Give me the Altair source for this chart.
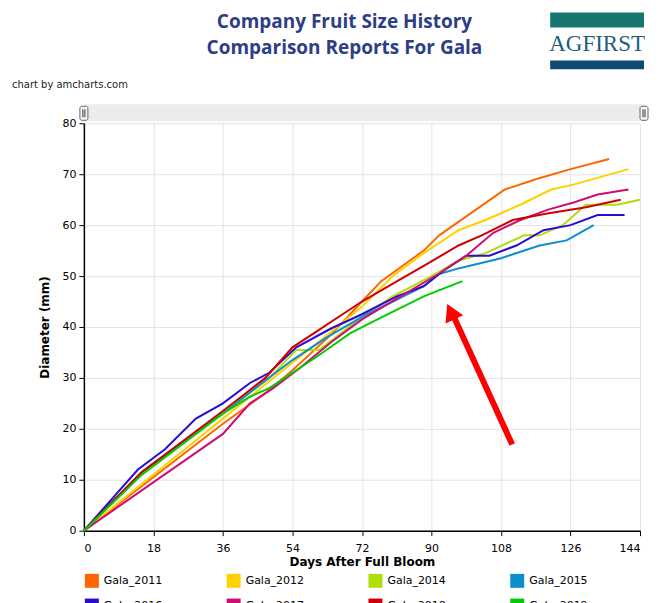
import altair as alt
import pandas as pd

# ---------------- data ----------------
SERIES = ["Gala_2011", "Gala_2012", "Gala_2014", "Gala_2015",
          "Gala_2016", "Gala_2017", "Gala_2018", "Gala_2019"]
COLORS = ["#FF6600", "#FCD202", "#B0DE09", "#0D8ECF",
          "#2A0CD0", "#CD0D74", "#CC0000", "#00CC00"]

days_2011 = [0, 36, 47, 54, 64, 72, 77, 88, 92, 109, 117, 126, 136]
mm_2011 = [0, 21, 27, 31.5, 38.5, 45, 49, 55, 58, 67, 69, 71, 73]

days_2012 = [0, 36, 54, 64, 72, 80, 88, 97, 104, 113, 121, 127, 141]
mm_2012 = [0, 22, 33, 39, 44, 50, 54.5, 59, 61, 64, 67, 68, 71]

days_2014 = [0, 15, 36, 48, 55, 61, 72, 80, 90, 97, 104, 114, 118, 124, 130, 138, 144]
mm_2014 = [0, 11, 23, 30, 35.5, 35.5, 42, 46, 50, 53, 54.5, 58, 58, 60, 64, 64, 65]

days_2015 = [0, 15, 36, 47, 54, 63, 72, 80, 88, 92, 97, 108, 118, 125, 132]
mm_2015 = [0, 11.5, 23, 29.5, 33.5, 38, 42, 45, 48, 50.4, 51.5, 53.5, 56, 57, 60]

days_2016 = [0, 14, 21, 29, 36, 43, 48, 55, 64, 72, 81, 88, 93, 99, 105, 112, 119, 126, 133, 140]
mm_2016 = [0, 12, 16, 22, 25, 29, 31, 36, 39.7, 42.5, 46, 48, 51, 54, 54, 56, 59, 60, 62, 62]

days_2017 = [0, 36, 43, 49, 56, 64, 72, 82, 92, 99, 106, 113, 120, 127, 133, 141]
mm_2017 = [0, 19, 25, 28, 32, 37, 41.5, 46, 50.5, 54, 58.5, 61, 63, 64.5, 66, 67]

days_2018 = [0, 15, 36, 47, 54, 60, 66, 72, 80, 88, 97, 103, 111, 120, 130, 139]
mm_2018 = [0, 11.5, 23.5, 30, 36, 39, 42, 45, 48.5, 52, 56, 58, 61, 62.3, 63.5, 65]

days_2019 = [0, 15, 36, 43, 48, 52, 60, 69, 76, 88, 98]
mm_2019 = [0, 11, 23, 26.3, 28, 30, 34, 38.8, 41.5, 46, 49]

ALL_DAYS = [days_2011, days_2012, days_2014, days_2015, days_2016, days_2017, days_2018, days_2019]
ALL_MM = [mm_2011, mm_2012, mm_2014, mm_2015, mm_2016, mm_2017, mm_2018, mm_2019]

X_TICKS = [0, 18, 36, 54, 72, 90, 108, 126, 144]
Y_TICKS = [0, 10, 20, 30, 40, 50, 60, 70, 80]

TITLE_LINES = ["Company Fruit Size History", "Comparison Reports For Gala"]
CREDIT = "chart by amcharts.com"
LOGO_TEXT = "AGFIRST"

# annotation arrow (tail -> head base), in data units
ARROW_DAYS = [110.9, 95.9]
ARROW_MM = [16.9, 41.8]
ARROW_HEAD = [95.0, 43.0]

rows = []
for name, ds, ms in zip(SERIES, ALL_DAYS, ALL_MM):
    for i, (d, m) in enumerate(zip(ds, ms)):
        rows.append({"series": name, "day": d, "mm": m, "order": i})
df = pd.DataFrame(rows)

W, H = 557, 408
FONT = "DejaVu Sans"

xscale = alt.Scale(domain=[0, 144], nice=False)
yscale = alt.Scale(domain=[0, 80], nice=False)

lines = alt.Chart(df).mark_line(strokeWidth=2).encode(
    x=alt.X("day:Q", scale=xscale,
            axis=alt.Axis(values=X_TICKS, title="Days After Full Bloom",
                          grid=True, gridColor="#e3e3e3", domainColor="#000",
                          tickColor="#000", tickSize=5, labelFont=FONT,
                          labelFontSize=11, labelColor="#000", labelPadding=7,
                          titleFont=FONT, titleFontSize=12, titleFontWeight="bold",
                          titleColor="#000", titlePadding=3)),
    y=alt.Y("mm:Q", scale=yscale,
            axis=alt.Axis(values=Y_TICKS, title="Diameter (mm)",
                          grid=True, gridColor="#e3e3e3", domainColor="#000",
                          tickColor="#000", tickSize=5, labelFont=FONT,
                          labelFontSize=11, labelColor="#000", labelPadding=3,
                          titleFont=FONT, titleFontSize=12, titleFontWeight="bold",
                          titleColor="#000", titlePadding=10)),
    color=alt.Color("series:N", scale=alt.Scale(domain=SERIES, range=COLORS),
                    legend=alt.Legend(title=None, orient="none", legendX=1,
                                      legendY=H + 43, columns=4, direction="horizontal",
                                      symbolType="square",
                                      symbolSize=49, symbolStrokeWidth=7,
                                      symbolOpacity=1, labelFont=FONT,
                                      labelFontSize=11, labelColor="#000",
                                      labelOffset=5, columnPadding=53,
                                      rowPadding=-15, padding=0)),
    order="order:Q",
)

arrow_df = pd.DataFrame({"d1": [ARROW_DAYS[0]], "m1": [ARROW_MM[0]],
                         "d2": [ARROW_DAYS[1]], "m2": [ARROW_MM[1]],
                         "hd": [ARROW_HEAD[0]], "hm": [ARROW_HEAD[1]]})
arrow_shaft = alt.Chart(arrow_df).mark_rule(color="#FF0000", strokeWidth=6).encode(
    x=alt.X("d1:Q", scale=xscale), y=alt.Y("m1:Q", scale=yscale),
    x2="d2:Q", y2="m2:Q")
arrow_head = alt.Chart(arrow_df).mark_point(
    shape="triangle-up", filled=True, color="#FF0000", opacity=1,
    size=380, angle=335).encode(
    x=alt.X("hd:Q", scale=xscale), y=alt.Y("hm:Q", scale=yscale))

one = pd.DataFrame({"k": [0]})
TITLE_COLOR = "#2E3E86"
title1 = alt.Chart(one).mark_text(text=TITLE_LINES[0], font="Open Sans",
                                  fontSize=19, fontWeight="bold", color=TITLE_COLOR,
                                  align="center", baseline="middle").encode(
    x=alt.value(261), y=alt.value(-101))
title2 = alt.Chart(one).mark_text(text=TITLE_LINES[1], font="Open Sans",
                                  fontSize=19, fontWeight="bold", color=TITLE_COLOR,
                                  align="center", baseline="middle").encode(
    x=alt.value(261), y=alt.value(-75))
credit = alt.Chart(one).mark_text(text=CREDIT, font=FONT, fontSize=10, color="#222",
                                  align="left", baseline="middle").encode(
    x=alt.value(-72), y=alt.value(-38))

# scrollbar decoration
scroll_bg = alt.Chart(one).mark_rect(color="#ececec").encode(
    x=alt.value(0), x2=alt.value(562), y=alt.value(-19), y2=alt.value(-2))
handles = []
for hx in [0, 561]:
    handles.append(alt.Chart(one).mark_rect(fill="#f6f6f6", stroke="#666",
                                            strokeWidth=1, cornerRadius=2).encode(
        x=alt.value(hx - 4), x2=alt.value(hx + 4), y=alt.value(-17), y2=alt.value(-3)))
    handles.append(alt.Chart(one).mark_rule(color="#333", strokeWidth=1).encode(
        x=alt.value(hx - 1), y=alt.value(-14), y2=alt.value(-6)))
    handles.append(alt.Chart(one).mark_rule(color="#333", strokeWidth=1).encode(
        x=alt.value(hx + 1), y=alt.value(-14), y2=alt.value(-6)))

# logo decoration
logo_top = alt.Chart(one).mark_rect(color="#17766F").encode(
    x=alt.value(467), x2=alt.value(561), y=alt.value(-111), y2=alt.value(-96))
logo_bottom = alt.Chart(one).mark_rect(color="#0E4A72").encode(
    x=alt.value(467), x2=alt.value(561), y=alt.value(-63), y2=alt.value(-54))
logo_text = alt.Chart(one).mark_text(text=LOGO_TEXT, font="Liberation Serif",
                                     fontSize=23, color="#1D5F7C", align="center",
                                     baseline="middle").encode(
    x=alt.value(514), y=alt.value(-79))

chart = alt.layer(
    lines, arrow_shaft, arrow_head, title1, title2, credit, scroll_bg, *handles,
    logo_top, logo_bottom, logo_text
).properties(
    width=W, height=H,
    autosize=alt.AutoSizeParams(type="none"),
    padding={"left": 76, "top": 115, "right": 20, "bottom": 80},
).configure_view(stroke=None).configure_axis(domainWidth=1.5)

chart.save("out.html", embed_options={"renderer": "svg", "actions": False})
